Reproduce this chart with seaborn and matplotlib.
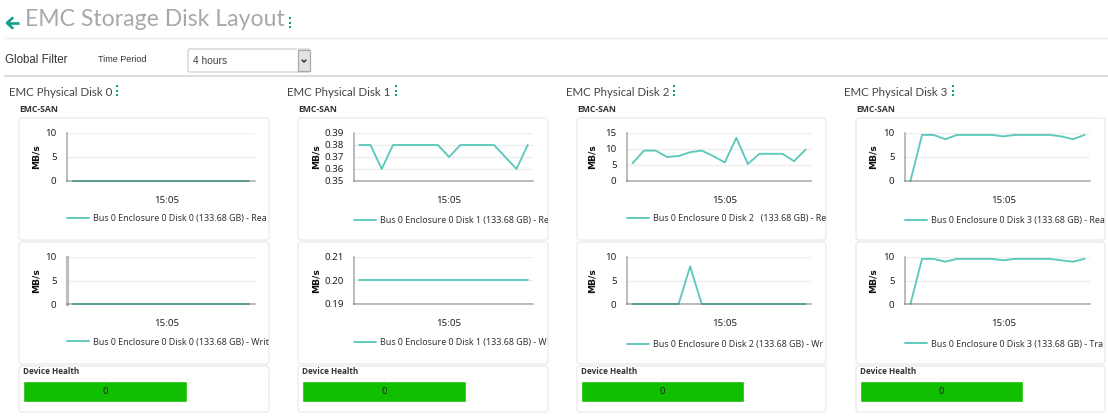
import matplotlib
matplotlib.use("Agg")
import matplotlib.pyplot as plt
import seaborn as sns
from matplotlib.patches import FancyBboxPatch, Rectangle
from matplotlib.transforms import Bbox, TransformedBbox

W, H = 1108, 416

# data
sample_index = list(range(16))
time_tick = 8
time_label = "15:05"

disk_names = ["EMC Physical Disk 0", "EMC Physical Disk 1", "EMC Physical Disk 2", "EMC Physical Disk 3"]
group_name = "EMC-SAN"

top_values_0 = [0, 0, 0, 0, 0, 0, 0, 0, 0, 0, 0, 0, 0, 0, 0, 0]
top_values_1 = [0.38, 0.38, 0.36, 0.38, 0.38, 0.38, 0.38, 0.38, 0.37, 0.38, 0.38, 0.38, 0.38, 0.37, 0.36, 0.38]
top_values_2 = [5.5, 9.5, 9.5, 7.5, 7.8, 9, 9.5, 7.8, 5.8, 13.5, 5.3, 8.5, 8.5, 8.5, 6.2, 9.8]
top_values_3 = [0, 9.6, 9.6, 8.7, 9.6, 9.6, 9.6, 9.6, 9.3, 9.6, 9.6, 9.6, 9.6, 9.3, 8.7, 9.6]

bottom_values_0 = [0, 0, 0, 0, 0, 0, 0, 0, 0, 0, 0, 0, 0, 0, 0, 0]
bottom_values_1 = [0.2, 0.2, 0.2, 0.2, 0.2, 0.2, 0.2, 0.2, 0.2, 0.2, 0.2, 0.2, 0.2, 0.2, 0.2, 0.2]
bottom_values_2 = [0, 0, 0, 0, 0, 8, 0, 0, 0, 0, 0, 0, 0, 0, 0, 0]
bottom_values_3 = [0, 9.6, 9.6, 9, 9.6, 9.6, 9.6, 9.6, 9.3, 9.6, 9.6, 9.6, 9.6, 9.3, 9, 9.6]

# legend texts as far as the cards show them
top_labels = ["Bus 0 Enclosure 0 Disk 0 (133.68 GB) - Rea",
              "Bus 0 Enclosure 0 Disk 1 (133.68 GB) - Re",
              "Bus 0 Enclosure 0 Disk 2   (133.68 GB) - Re",
              "Bus 0 Enclosure 0 Disk 3 (133.68 GB) - Rea"]
bottom_labels = ["Bus 0 Enclosure 0 Disk 0 (133.68 GB) - Writ",
                 "Bus 0 Enclosure 0 Disk 1 (133.68 GB) - W",
                 "Bus 0 Enclosure 0 Disk 2 (133.68 GB) - Wr",
                 "Bus 0 Enclosure 0 Disk 3 (133.68 GB) - Tra"]

top_ticks = [[0, 5, 10], [0.35, 0.36, 0.37, 0.38, 0.39], [0, 5, 10, 15], [0, 5, 10]]
bottom_ticks = [[0, 5, 10], [0.19, 0.20, 0.21], [0, 5, 10], [0, 5, 10]]

health_value = 100
health_label = "0"
health_max = 150

# layout in pixels, one entry per column
title_x = [9, 287, 566, 844]
menu_x = [117, 396, 674, 953]
card_x = [19, 298, 577, 856]
card_right = [269, 548, 826, 1105]
axis_left = [67, 354, 627, 905]
axis_right = [255, 533, 811, 1090]
ylabel_x = [36, 316, 592, 873]
top_legend_y = [219, 221, 219, 221]
bottom_legend_y = [342, 343, 345, 344]

TEAL = "#5cc9bb"
ACCENT = "#0a9e8c"
GREY = "#a9adad"
CHART_FONT = "Noto Sans"

sns.set_style("white")
plt.rcParams["font.family"] = ["DejaVu Sans"]

fig = plt.figure(figsize=(W / 100, H / 100), dpi=100, facecolor="white")

# page furniture goes on one axes in pixel coordinates
bg = fig.add_axes([0, 0, 1, 1], zorder=-1)
bg.set_xlim(0, W)
bg.set_ylim(H, 0)
bg.axis("off")


def new_axes(x0, x1, y0, y1):
    return fig.add_axes([x0 / W, (H - y1) / H, (x1 - x0) / W, (y1 - y0) / H])


def card(x0, x1, y0, y1):
    bg.add_patch(FancyBboxPatch((x0 + 2, y0 + 2), x1 - x0 - 4, y1 - y0 - 4,
                                boxstyle="round,pad=2,rounding_size=3",
                                fc="white", ec="#eceeee", lw=1.1))


def menu_dots(x, y):
    bg.plot([x, x, x], [y - 4.5, y, y + 4.5], ls="none", marker="s", ms=2.1, color=ACCENT, mew=0)


def line_chart(ax, values, ticks, label, col, legend_y):
    sns.lineplot(x=sample_index, y=values, ax=ax, color=TEAL, lw=1.35, label=label, clip_on=False, zorder=2)
    ax.set_xlim(-0.47, 15.47)
    ax.set_ylim(ticks[0], ticks[-1])
    ax.set_xticks([time_tick], [time_label])
    ax.set_yticks(ticks)
    if ticks[-1] < 1:
        ax.set_yticklabels(["%.2f" % t for t in ticks])
    ax.tick_params(axis="y", length=5, width=0.9, color=GREY, pad=2.5, labelsize=7, labelcolor="#222222")
    ax.tick_params(axis="x", length=4, width=0.9, color=GREY, pad=7, labelsize=7, labelcolor="#222222")
    for t in ax.get_xticklabels() + ax.get_yticklabels():
        t.set_family(CHART_FONT)
    ax.yaxis.grid(True, color="#eeeeee", lw=1)
    ax.xaxis.grid(False)
    ax.patch.set_alpha(0)
    for side in ["top", "right"]:
        ax.spines[side].set_visible(False)
    for side in ["left", "bottom"]:
        ax.spines[side].set_color((0.3, 0.3, 0.3, 0.48))
        ax.spines[side].set_linewidth(1.1)
        ax.spines[side].set_zorder(3)
    ax.set_xlabel("")
    ax.set_ylabel("")
    box = ax.get_position()
    fig.text(ylabel_x[col] / W, box.y0 + box.height / 2, "MB/s", rotation=90, fontsize=6.6,
             fontweight="bold", ha="center", va="center", color="#111111")
    leg = ax.legend(loc="center left", frameon=False,
                    prop={"family": CHART_FONT, "size": 6.4},
                    bbox_to_anchor=(axis_left[col] / W, (H - legend_y) / H),
                    bbox_transform=fig.transFigure, borderpad=0, borderaxespad=0,
                    handlelength=2.5, handletextpad=0.45)
    # long labels get cut off by the card edge
    clip = TransformedBbox(Bbox([[0, 0], [card_right[col] / W, 1]]), fig.transFigure)
    for t in leg.get_texts():
        t.set_color("#333333")
        t.set_clip_box(clip)
        t.set_clip_on(True)
    return ax


# header
bg.plot([18.5, 7.5], [23, 23], color=ACCENT, lw=1.9, solid_capstyle="butt")
bg.plot([12.5, 7, 12.5], [18, 23, 28], color=ACCENT, lw=1.9)
bg.text(25, 20, "EMC Storage Disk Layout", family="Lato", fontsize=16.6, color="#a6a9ab", va="center", ha="left")
menu_dots(289.5, 22.5)
bg.plot([5, W], [37.5, 37.5], color="#e8e8e8", lw=1)
bg.plot([5, W], [76, 76], color="#dcdcdc", lw=1.4)

# filter row
bg.text(5, 60, "Global Filter", family="Liberation Sans", fontsize=8.3, color="#333333", va="center")
bg.text(98, 60, "Time Period", family="Liberation Sans", fontsize=6.5, color="#333333", va="center")
bg.add_patch(FancyBboxPatch((190, 51), 118, 19, boxstyle="round,pad=2,rounding_size=2", fc="white", ec="#d4d4d4", lw=1))
bg.add_patch(Rectangle((298, 50), 12, 21, fc="#e2e2e2", ec="#a8a8a8", lw=0.9))
bg.plot([302, 304, 306], [60, 62, 60], color="#222222", lw=1)
bg.text(193, 60.5, "4 hours", family="Liberation Sans", fontsize=7.4, color="#444444", va="center")

top_series = [top_values_0, top_values_1, top_values_2, top_values_3]
bottom_series = [bottom_values_0, bottom_values_1, bottom_values_2, bottom_values_3]

for i in range(4):
    bg.text(title_x[i], 92, disk_names[i], family="Lato", fontsize=8.3, color="#444444", va="center")
    menu_dots(menu_x[i], 90.5)
    bg.text(card_x[i], 109, group_name, family="Open Sans", fontsize=6.2, fontweight="bold", color="#333333", va="center")

    card(card_x[i], card_right[i], 118, 240)
    card(card_x[i], card_right[i], 242, 364)
    card(card_x[i], card_right[i], 366, 412)

    line_chart(new_axes(axis_left[i], axis_right[i], 133, 181), top_series[i], top_ticks[i],
               top_labels[i], i, top_legend_y[i])
    ax = line_chart(new_axes(axis_left[i], axis_right[i], 257, 304), bottom_series[i], bottom_ticks[i],
                    bottom_labels[i], i, bottom_legend_y[i])
    if i == 0:
        ax.spines["left"].set_linewidth(2.2)
        ax.spines["left"].set_color((0.3, 0.3, 0.3, 0.36))

    # device health bar
    bg.text(card_x[i] + 4, 371.5, "Device Health", family="Open Sans", fontsize=5.9, fontweight="bold",
            color="#333333", va="center")
    ax = new_axes(card_x[i] + 4, card_right[i], 379, 403)
    sns.barplot(x=[health_value], y=["Device Health"], orient="h", ax=ax, color="#12bf00",
                saturation=1, width=0.875, zorder=2)
    ax.bar_label(ax.containers[0], labels=[health_label], label_type="center", fontsize=6.8, color="#222222",
                 family=CHART_FONT)
    ax.set_xlim(0, health_max)
    ax.set_xticks([50, 100, 150])
    ax.tick_params(axis="both", length=0, labelbottom=False, labelleft=False)
    ax.xaxis.grid(True, color="#eeeeee", lw=1)
    ax.set_xlabel("")
    ax.set_ylabel("")
    ax.patch.set_alpha(0)
    sns.despine(ax=ax, left=True, bottom=True)

fig.savefig("out.png", dpi=100, facecolor="white")
